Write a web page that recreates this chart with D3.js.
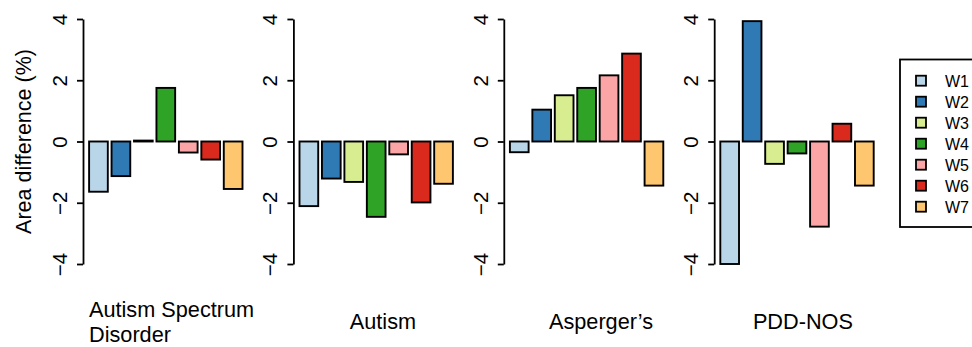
<!DOCTYPE html>
<html>
<head>
    <title>Area difference</title>
    <meta charset="utf-8">
    <script src="https://cdn.jsdelivr.net/npm/d3@7"></script>
    <style>
        body { margin: 0; background: #fff; }
        text { font-family: "Liberation Sans", Arial, Helvetica, sans-serif; fill: #000; }
    </style>
</head>
<body>

<script>
// dati
var waves = ["W1", "W2", "W3", "W4", "W5", "W6", "W7"];
var colors = ["#B9D5E8", "#2F79B4", "#D8EC90", "#2EA326", "#FBA5A6", "#DA2A1E", "#FEC66F"];
var groups = [["Autism Spectrum", "Disorder"], ["Autism"], ["Asperger\u2019s"], ["PDD-NOS"]];
var asd      = [-1.64, -1.13, 0.03, 1.75, -0.36, -0.59, -1.55];
var autism   = [-2.11, -1.21, -1.32, -2.46, -0.42, -1.99, -1.38];
var asperger = [-0.35, 1.04, 1.51, 1.75, 2.16, 2.87, -1.44];
var pddnos   = [-4.00, 3.93, -0.73, -0.39, -2.78, 0.58, -1.44];
var yTicks = [-4, -2, 0, 2, 4];
var series = [asd, autism, asperger, pddnos];

var width = 972;
var height = 347;

// posizioni dei pannelli
var left0 = 83;
var panelStep = 210.4;
var plotW = 165.6;
var titleX = [6, 89.5, 97.2, 88.7];   // offset del titolo dall'asse
var titleAnchor = ["start", "middle", "middle", "middle"];

var svg = d3.select("body").append("svg")
    .attr("width", width).attr("height", height);

var yScale = d3.scaleLinear().domain([-4, 4]).range([264, 19]);

var xScale = d3.scaleBand().domain(waves).range([0, plotW])
    .paddingInner(0.2 / 1.2).paddingOuter(0.272);

// etichetta asse y
svg.append("text")
    .attr("transform", "translate(31," + yScale(0) + ") rotate(-90)")
    .attr("text-anchor", "middle")
    .style("font-size", "21.5px")
    .text("Area difference (%)");

for (let p = 0; p < series.length; p++) {
    var g = svg.append("g").attr("transform", "translate(" + (left0 + p * panelStep) + ",0)");

    // asse con etichette ruotate
    var ax = g.append("g").call(d3.axisLeft(yScale).tickValues(yTicks).tickSize(6).tickSizeOuter(0));
    ax.select(".domain").attr("stroke-width", 1.8);
    ax.selectAll(".tick line").attr("stroke-width", 1.8);
    ax.selectAll(".tick text")
        .attr("x", 0).attr("y", 0).attr("dy", 0)
        .attr("transform", "translate(-16,0) rotate(-90)")
        .attr("text-anchor", "middle")
        .style("font-family", "\"Liberation Sans\", Arial, Helvetica, sans-serif")
        .style("font-size", "20.5px")
        .attr("fill", "#000");

    // barre
    g.selectAll("rect.bar")
        .data(series[p])
        .enter()
        .append("rect")
        .attr("class", "bar")
        .attr("x", function(d, i) { return xScale(waves[i]); })
        .attr("width", xScale.bandwidth())
        .attr("y", function(d) { return yScale(Math.max(0, d)); })
        .attr("height", function(d) { return Math.abs(yScale(d) - yScale(0)); })
        .attr("fill", function(d, i) { return colors[i]; })
        .attr("stroke", "#000")
        .attr("stroke-width", 1.9);

    // titolo del pannello (una o due righe, centrato verticalmente)
    var lines = groups[p];
    var t = g.append("text")
        .attr("text-anchor", titleAnchor[p])
        .style("font-size", "21.7px");
    for (let k = 0; k < lines.length; k++) {
        t.append("tspan")
            .attr("x", titleX[p])
            .attr("y", 329 + (k - (lines.length - 1) / 2) * 25)
            .text(lines[k]);
    }
}

// legenda
var leg = svg.append("g");
leg.append("rect")
    .attr("x", 900).attr("y", 59.5)
    .attr("width", 100).attr("height", 167.5)
    .attr("fill", "none").attr("stroke", "#000").attr("stroke-width", 1.8);

var items = leg.selectAll("g.item")
    .data(waves)
    .enter()
    .append("g")
    .attr("class", "item")
    .attr("transform", function(d, i) { return "translate(916," + (80.7 + i * 21) + ")"; });

items.append("rect")
    .attr("x", 0).attr("y", -5)
    .attr("width", 10).attr("height", 10)
    .attr("fill", function(d, i) { return colors[i]; })
    .attr("stroke", "#000").attr("stroke-width", 1.8);

items.append("text")
    .attr("x", 29).attr("y", 6)
    .style("font-size", "16px")
    .text(function(d) { return d; });
</script>

</body>
</html>
